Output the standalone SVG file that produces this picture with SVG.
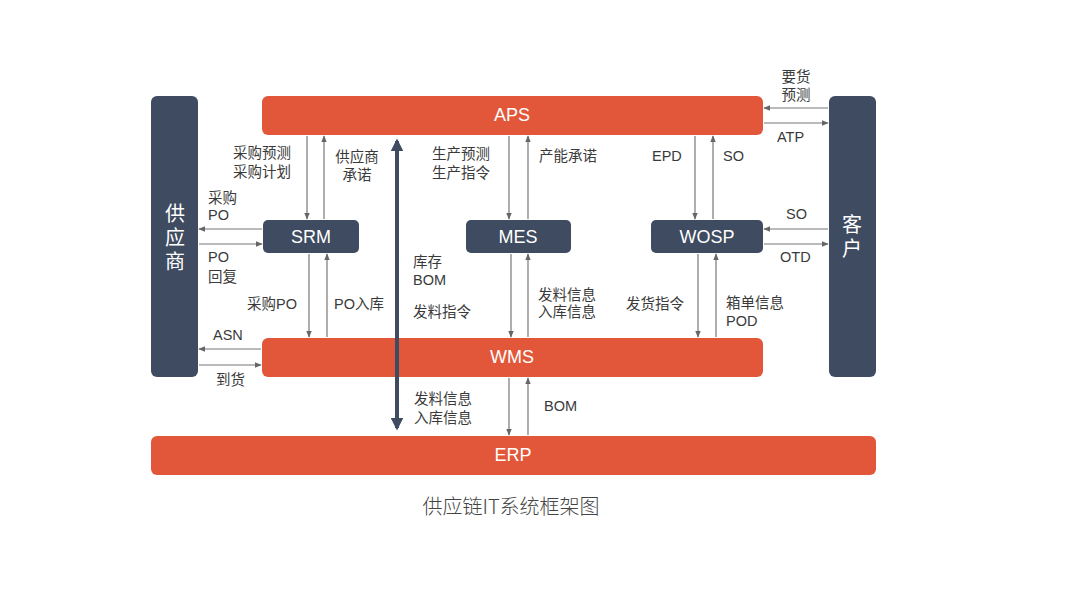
<svg xmlns="http://www.w3.org/2000/svg" width="1080" height="608" viewBox="0 0 1080 608">
<defs>
<style>
.o{fill:#E2573A}
.n{fill:#3E4B60}
.bt{font-family:"Liberation Sans","Noto Sans CJK SC",sans-serif;fill:#fff;font-size:18px;text-anchor:middle}
.vt{font-family:"Noto Sans CJK SC",sans-serif;fill:#fff;font-size:20px;text-anchor:middle;writing-mode:vertical-rl;letter-spacing:4px}
.t{font-family:"Liberation Sans","Noto Sans CJK SC",sans-serif;fill:#3a3a3a;font-size:14.5px}
.c line{stroke:#777;stroke-width:1.2;marker-end:url(#a)}
</style>
<marker id="a" viewBox="0 0 10 10" refX="9" refY="5" markerWidth="7" markerHeight="7" orient="auto" markerUnits="userSpaceOnUse"><path d="M0,1 L10,5 L0,9 z" fill="#666"/></marker>
<marker id="b" viewBox="0 0 10 10" refX="8" refY="5" markerWidth="3.2" markerHeight="3.2" orient="auto-start-reverse"><path d="M0,0 L10,5 L0,10 z" fill="#3E4B60"/></marker>
</defs>
<rect width="1080" height="608" fill="#fff"/>

<g id="supplier"><rect class="n" x="151" y="96" width="47" height="281" rx="6"/><text class="vt" x="175" y="239">供应商</text></g>
<g id="customer"><rect class="n" x="829" y="96" width="47" height="281" rx="6"/><text class="vt" x="852" y="238">客户</text></g>
<g id="aps"><rect class="o" x="262" y="96" width="501" height="39" rx="6"/><text class="bt" x="512" y="121">APS</text></g>
<g id="srm"><rect class="n" x="263" y="220" width="96" height="33" rx="5"/><text class="bt" x="311" y="243">SRM</text></g>
<g id="mes"><rect class="n" x="466" y="220" width="105" height="33" rx="5"/><text class="bt" x="518" y="243">MES</text></g>
<g id="wosp"><rect class="n" x="651" y="220" width="112" height="33" rx="5"/><text class="bt" x="707" y="243">WOSP</text></g>
<g id="wms"><rect class="o" x="262" y="338" width="501" height="39" rx="6"/><text class="bt" x="512" y="363">WMS</text></g>
<g id="erp"><rect class="o" x="151" y="436" width="725" height="39" rx="6"/><text class="bt" x="513" y="461">ERP</text></g>

<g id="connectors" class="c">
<line x1="307" y1="136" x2="307" y2="219"/>
<line x1="324" y1="219" x2="324" y2="136"/>
<line x1="509" y1="136" x2="509" y2="219"/>
<line x1="528" y1="219" x2="528" y2="136"/>
<line x1="695" y1="136" x2="695" y2="219"/>
<line x1="713" y1="219" x2="713" y2="136"/>
<line x1="309" y1="254" x2="309" y2="337"/>
<line x1="327" y1="337" x2="327" y2="254"/>
<line x1="511" y1="254" x2="511" y2="337"/>
<line x1="528" y1="337" x2="528" y2="254"/>
<line x1="698" y1="254" x2="698" y2="337"/>
<line x1="716" y1="337" x2="716" y2="254"/>
<line x1="509" y1="378" x2="509" y2="435"/>
<line x1="528" y1="435" x2="528" y2="378"/>
<line x1="262" y1="229" x2="199" y2="229"/>
<line x1="199" y1="244" x2="262" y2="244"/>
<line x1="261" y1="349" x2="199" y2="349"/>
<line x1="199" y1="365" x2="261" y2="365"/>
<line x1="828" y1="108" x2="764" y2="108"/>
<line x1="764" y1="123" x2="828" y2="123"/>
<line x1="828" y1="229" x2="764" y2="229"/>
<line x1="764" y1="244" x2="828" y2="244"/>
<line x1="397" y1="141" x2="397" y2="428" style="stroke:#3E4B60;stroke-width:4;marker-end:url(#b);marker-start:url(#b)"/>
</g>

<g id="labels">
<text class="t" x="233" y="158">采购预测</text>
<text class="t" x="233" y="177">采购计划</text>
<text class="t" x="357" y="162" text-anchor="middle">供应商</text>
<text class="t" x="357" y="180" text-anchor="middle">承诺</text>
<text class="t" x="208" y="203">采购</text>
<text class="t" x="208" y="220">PO</text>
<text class="t" x="208" y="262">PO</text>
<text class="t" x="208" y="282">回复</text>
<text class="t" x="247" y="309">采购PO</text>
<text class="t" x="334" y="309">PO入库</text>
<text class="t" x="213" y="340">ASN</text>
<text class="t" x="216" y="385">到货</text>
<text class="t" x="432" y="159">生产预测</text>
<text class="t" x="432" y="178">生产指令</text>
<text class="t" x="539" y="161">产能承诺</text>
<text class="t" x="652" y="161">EPD</text>
<text class="t" x="723" y="161">SO</text>
<text class="t" x="796" y="82" text-anchor="middle">要货</text>
<text class="t" x="796" y="100" text-anchor="middle">预测</text>
<text class="t" x="777" y="142">ATP</text>
<text class="t" x="786" y="219">SO</text>
<text class="t" x="780" y="262">OTD</text>
<text class="t" x="413" y="267">库存</text>
<text class="t" x="413" y="285">BOM</text>
<text class="t" x="413" y="317">发料指令</text>
<text class="t" x="538" y="300">发料信息</text>
<text class="t" x="538" y="317">入库信息</text>
<text class="t" x="626" y="309">发货指令</text>
<text class="t" x="726" y="308">箱单信息</text>
<text class="t" x="726" y="326">POD</text>
<text class="t" x="414" y="404">发料信息</text>
<text class="t" x="414" y="423">入库信息</text>
<text class="t" x="544" y="411">BOM</text>
<text x="511" y="514" text-anchor="middle" style="font-family:'Noto Sans CJK SC',sans-serif;font-size:20px;fill:#444;font-weight:300">供应链IT系统框架图</text>
</g>
</svg>
